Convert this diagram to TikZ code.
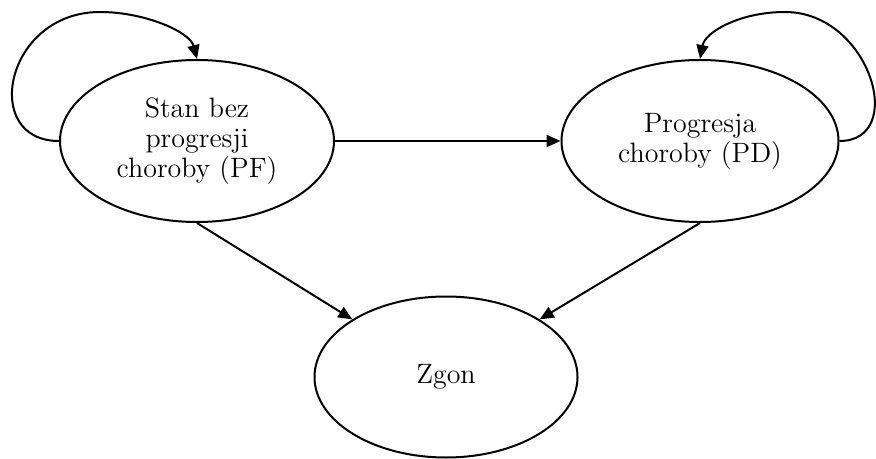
\documentclass[tikz,border=0pt]{standalone}
\usepackage{tikz}
\usetikzlibrary{shapes.geometric,arrows.meta}

\begin{document}
\begin{tikzpicture}[x=0.5pt, y=-0.5pt,
    state/.style={ellipse, draw=black, line width=1pt, inner sep=0pt,
        minimum width=137pt, minimum height=81pt, align=center,
        font=\fontsize{14}{15}\selectfont},
    arr/.style={-{Triangle[length=7pt,width=6pt]}, line width=1pt, black}
]
    \useasboundingbox (0,0) rectangle (876,459);

    \node[state] (pf) at (197,141) {Stan bez\\progresji\\choroby (PF)};
    \node[state, minimum width=138.5pt] (pd) at (700,141) {Progresja\\choroby (PD)};
    \node[state, minimum width=131.5pt, minimum height=80.5pt] (zgon) at (446,377) {Zgon};

    \draw[arr] (pf) -- (pd);
    \draw[arr] (pf.south) -- (zgon.north west);
    \draw[arr] (pd.south) -- (zgon.north east);

    % self loops
    \draw[arr] (pf.west) .. controls (-20,141) and (5,12) .. (100,12)
        .. controls (145,12) and (190,32) .. (pf.north);
    \draw[arr] (pd.east) .. controls (908,141) and (870,12) .. (785,12)
        .. controls (740,12) and (705,32) .. (pd.north);
\end{tikzpicture}
\end{document}
